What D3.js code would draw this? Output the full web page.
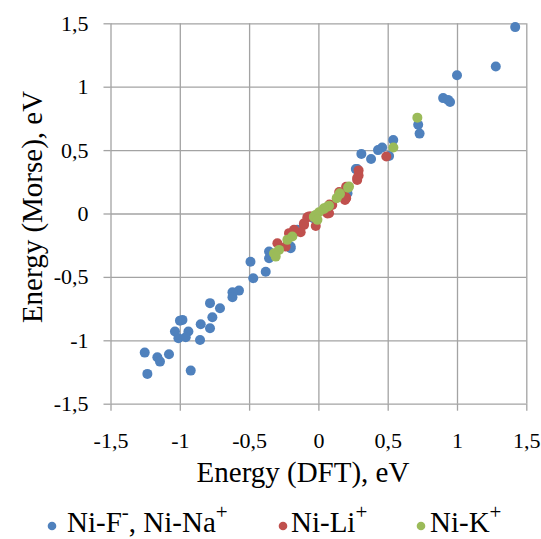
<!DOCTYPE html>
<html>
<head>
<meta charset="utf-8">
<script src="https://cdn.jsdelivr.net/npm/d3@7"></script>
<style>
  html, body { margin: 0; padding: 0; background: #fff; }
</style>
</head>
<body>
<svg id="chart" width="541" height="539"></svg>
<script>
// tick values shared by both axes
const ticks = [-1.5, -1, -0.5, 0, 0.5, 1, 1.5];

// Ni-F-, Ni-Na+  [DFT, Morse]
const blueSeries = [
  [1.42, 1.47], [1.28, 1.16], [1.0, 1.09], [0.90, 0.91], [0.935, 0.896], [0.95, 0.88],
  [0.72, 0.70], [0.73, 0.63], [0.54, 0.58], [0.46, 0.52], [0.43, 0.50], [0.31, 0.47],
  [0.38, 0.43], [0.51, 0.454], [0.28, 0.35], [0.27, 0.35], [0.21, 0.16], [-0.036, -0.037],
  [-0.152, -0.129], [-0.164, -0.143], [-0.2, -0.26], [-0.2, -0.274], [-0.356, -0.3],
  [-0.356, -0.353], [-0.38, -0.46], [-0.49, -0.38], [-0.47, -0.51], [-0.573, -0.608],
  [-0.62, -0.621], [-0.62, -0.66], [-0.71, -0.747], [-0.782, -0.707], [-0.765, -0.818],
  [-0.782, -0.905], [-0.849, -0.873], [-0.854, -0.997], [-0.981, -0.839], [-0.999, -0.845],
  [-1.035, -0.931], [-0.938, -0.931], [-1.01, -0.983], [-0.957, -0.976], [-1.253, -1.097],
  [-1.162, -1.133], [-1.143, -1.168], [-1.078, -1.11], [-1.234, -1.265], [-0.921, -1.239]
];

// Ni-Li+
const redSeries = [
  [0.49, 0.45], [0.29, 0.34], [0.29, 0.30], [0.28, 0.265], [0.28, 0.28], [0.2, 0.21],
  [0.2, 0.125], [0.2, 0.12], [0.15, 0.17], [0.18, 0.16], [0.08, 0.07], [0.1, 0.068],
  [0.065, 0.0], [0.077, 0.002], [-0.08, -0.03], [-0.056, -0.024], [-0.068, -0.024],
  [-0.104, -0.09], [-0.104, -0.077], [-0.019, -0.098], [-0.128, -0.148], [-0.176, -0.129],
  [-0.212, -0.155], [-0.296, -0.234], [-0.236, -0.261], [0.192, 0.107]
];

// Ni-K+
const greenSeries = [
  [0.714, 0.756], [0.541, 0.52], [0.221, 0.212], [0.214, 0.204], [0.154, 0.16], [0.154, 0.152],
  [0.132, 0.121], [0.077, 0.062], [0.065, 0.054], [0.04, 0.036], [0.04, 0.042], [0.004, 0.01],
  [-0.032, -0.024], [-0.032, -0.03], [-0.02, -0.011], [-0.007, -0.05], [-0.188, -0.182],
  [-0.224, -0.208], [-0.284, -0.287], [-0.32, -0.313], [-0.308, -0.34]
];

const serifFont = "'Liberation Serif'";

const svg = d3.select("#chart");
const plotLeft = 110.5, plotRight = 526.3, plotTop = 23.3, plotBottom = 403.7;
const w = plotRight - plotLeft, h = plotBottom - plotTop;

const x = d3.scaleLinear().domain([-1.5, 1.5]).range([plotLeft, plotRight]);
const y = d3.scaleLinear().domain([-1.5, 1.5]).range([plotBottom, plotTop]);

const fmt = d3.formatLocale({ decimal: ",", thousands: " ", grouping: [3], currency: ["", ""], minus: "-" }).format("~g");

const gridColor = "#a3a3a3";

// gridlines
svg.append("g")
  .attr("transform", `translate(0,${plotBottom})`)
  .call(d3.axisBottom(x).tickValues(ticks).tickSize(-h).tickFormat(""))
  .call(g => g.select(".domain").remove());
svg.append("g")
  .attr("transform", `translate(${plotLeft},0)`)
  .call(d3.axisLeft(y).tickValues(ticks).tickSize(-w).tickFormat(""))
  .call(g => g.select(".domain").remove());

// outward ticks + labels
const xAxis = svg.append("g")
  .attr("transform", `translate(0,${plotBottom})`)
  .call(d3.axisBottom(x).tickValues(ticks).tickSize(7).tickPadding(22).tickFormat(fmt))
  .call(g => g.select(".domain").remove());
const yAxis = svg.append("g")
  .attr("transform", `translate(${plotLeft},0)`)
  .call(d3.axisLeft(y).tickValues(ticks).tickSize(7).tickPadding(15).tickFormat(fmt))
  .call(g => g.select(".domain").remove());

svg.selectAll(".tick line").attr("stroke", gridColor).attr("stroke-width", 1.3);
[xAxis, yAxis].forEach(a => a.attr("font-family", null).attr("font-size", null)
  .selectAll("text").style("font-family", serifFont).style("font-size", "22px").attr("fill", "#000"));

// points
const series = [
  { data: blueSeries, color: "#4f81bd" },
  { data: redSeries, color: "#c0504d" },
  { data: greenSeries, color: "#9bbb59" }
];
series.forEach(s => {
  svg.append("g").selectAll("circle").data(s.data).join("circle")
    .attr("cx", d => x(d[0])).attr("cy", d => y(d[1]))
    .attr("r", 5).attr("fill", s.color);
});

// axis titles
svg.append("text").attr("x", 303).attr("y", 482).attr("text-anchor", "middle")
  .style("font-family", serifFont).style("font-size", "29px").text("Energy (DFT), eV");
svg.append("text").attr("transform", "translate(42,207) rotate(-90)").attr("text-anchor", "middle")
  .style("font-family", serifFont).style("font-size", "29px").text("Energy (Morse), eV");

// legend
const legend = [
  { cx: 52, tx: 67, color: "#4f81bd", parts: [["Ni-F", false], ["-", true], [", Ni-Na", false], ["+", true]] },
  { cx: 283, tx: 291, color: "#c0504d", parts: [["Ni-Li", false], ["+", true]] },
  { cx: 421, tx: 430, color: "#9bbb59", parts: [["Ni-K", false], ["+", true]] }
];
legend.forEach(l => {
  svg.append("circle").attr("cx", l.cx).attr("cy", 526).attr("r", 4.3).attr("fill", l.color);
  const t = svg.append("text").attr("x", l.tx).attr("y", 532)
    .style("font-family", serifFont).style("font-size", "29px");
  l.parts.forEach(([s, sup], i) => {
    const ts = t.append("tspan").text(s);
    if (sup) ts.style("font-size", "21px").attr("dy", -13);
    else if (i > 0) ts.attr("dy", 13);
  });
});
</script>
</body>
</html>
